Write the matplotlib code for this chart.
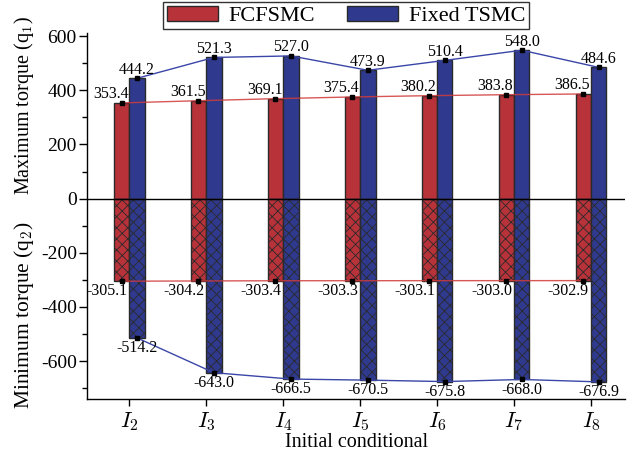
import numpy as np
import matplotlib
matplotlib.use("Agg")
import matplotlib.pyplot as plt
from matplotlib.ticker import MultipleLocator

plt.rcParams['font.family'] = ['Liberation Serif', 'DejaVu Serif']
plt.rcParams['mathtext.fontset'] = 'cm'
plt.rcParams['axes.unicode_minus'] = False
plt.rcParams['hatch.linewidth'] = 0.6
plt.rcParams['hatch.color'] = 'black'

conditions = ['$I_2$', '$I_3$', '$I_4$', '$I_5$', '$I_6$', '$I_7$', '$I_8$']
fcfsmc_max = [353.4, 361.5, 369.1, 375.4, 380.2, 383.8, 386.5]
tsmc_max = [444.2, 521.3, 527.0, 473.9, 510.4, 548.0, 484.6]
fcfsmc_min = [-305.1, -304.2, -303.4, -303.3, -303.1, -303.0, -302.9]
tsmc_min = [-514.2, -643.0, -666.5, -670.5, -675.8, -668.0, -676.9]

red = '#b8323a'
blue = '#2f3a8f'
red_line = '#d03a3a'
blue_line = '#3a46a8'
edge = '#2a2a2a'

fig = plt.figure(figsize=(6.37, 4.57), dpi=100)
ax = fig.add_axes([0.137, 0.127, 0.844, 0.801])

x = np.arange(len(conditions))
w = 0.2
xr = x - w / 2
xb = x + w / 2

ax.bar(xr, fcfsmc_max, w, color=red, edgecolor=edge, linewidth=1, label='FCFSMC', zorder=2)
ax.bar(xb, tsmc_max, w, color=blue, edgecolor=edge, linewidth=1, label='Fixed TSMC', zorder=2)
ax.bar(xr, fcfsmc_min, w, color=red, edgecolor=edge, linewidth=1, hatch='xxx', zorder=2)
ax.bar(xb, tsmc_min, w, color=blue, edgecolor=edge, linewidth=1, hatch='xxx', zorder=2)

# trend lines through bar ends
ax.plot(xr, fcfsmc_max, color=red_line, lw=1, alpha=0.85, zorder=3)
ax.plot(xb, tsmc_max, color=blue_line, lw=1, zorder=3)
ax.plot(xr, fcfsmc_min, color=red_line, lw=1, alpha=0.85, zorder=3)
ax.plot(xb, tsmc_min, color=blue_line, lw=1, zorder=3)
for xs, ys in [(xr, fcfsmc_max), (xb, tsmc_max), (xr, fcfsmc_min), (xb, tsmc_min)]:
    ax.plot(xs, ys, ls='none', marker='s', ms=3.5, color='black', zorder=4)

ax.axhline(0, color='black', lw=1, zorder=5)

fs_val = 11.5
for i in range(len(x)):
    ax.annotate(f'{fcfsmc_max[i]:.1f}', (xr[i], fcfsmc_max[i]), xytext=(5, 0.5),
                textcoords='offset points', ha='right', va='bottom', fontsize=fs_val, zorder=6)
    ax.annotate(f'{tsmc_max[i]:.1f}', (xb[i], tsmc_max[i]), xytext=(0, 0.5),
                textcoords='offset points', ha='center', va='bottom', fontsize=fs_val, zorder=6)
    ax.annotate(f'{fcfsmc_min[i]:.1f}', (xr[i], fcfsmc_min[i]), xytext=(4, -1.5),
                textcoords='offset points', ha='right', va='top', fontsize=fs_val, zorder=6)
    ax.annotate(f'{tsmc_min[i]:.1f}', (xb[i], tsmc_min[i]), xytext=(0, -1.5),
                textcoords='offset points', ha='center', va='top', fontsize=fs_val, zorder=6)

ax.set_xlim(-0.545, 6.44)
ax.set_ylim(-740, 612)
ax.set_xticks(x)
ax.set_xticklabels(conditions, fontsize=16)
ax.set_yticks([600, 400, 200, 0, -200, -400, -600])
ax.yaxis.set_minor_locator(MultipleLocator(100))
ax.tick_params(axis='y', which='major', labelsize=14, length=5.5, width=1, direction='out', pad=2)
ax.tick_params(axis='y', which='minor', length=3.5, width=1, direction='out')
ax.tick_params(axis='x', which='major', length=5, width=1, direction='out', pad=3)
for s in ['top', 'right']:
    ax.spines[s].set_visible(False)
for s in ['left', 'bottom']:
    ax.spines[s].set_linewidth(1)

ax.set_xlabel('Initial conditional', fontsize=14.5, labelpad=0)
fig.text(0.038, 0.77, 'Maximum torque (q$_1$)', rotation=90, ha='center', va='center', fontsize=14.5)
fig.text(0.038, 0.31, 'Minimum torque (q$_2$)', rotation=90, ha='center', va='center', fontsize=15.5)

leg = fig.legend(loc='upper center', bbox_to_anchor=(0.543, 1.0), ncol=2, fontsize=16,
                 frameon=True, fancybox=False, edgecolor='black', handlelength=2.3,
                 handleheight=0.7, columnspacing=1.4, handletextpad=0.5,
                 borderpad=0.15, borderaxespad=0.1)
leg.get_frame().set_linewidth(1)

fig.savefig('out.png', dpi=100)
